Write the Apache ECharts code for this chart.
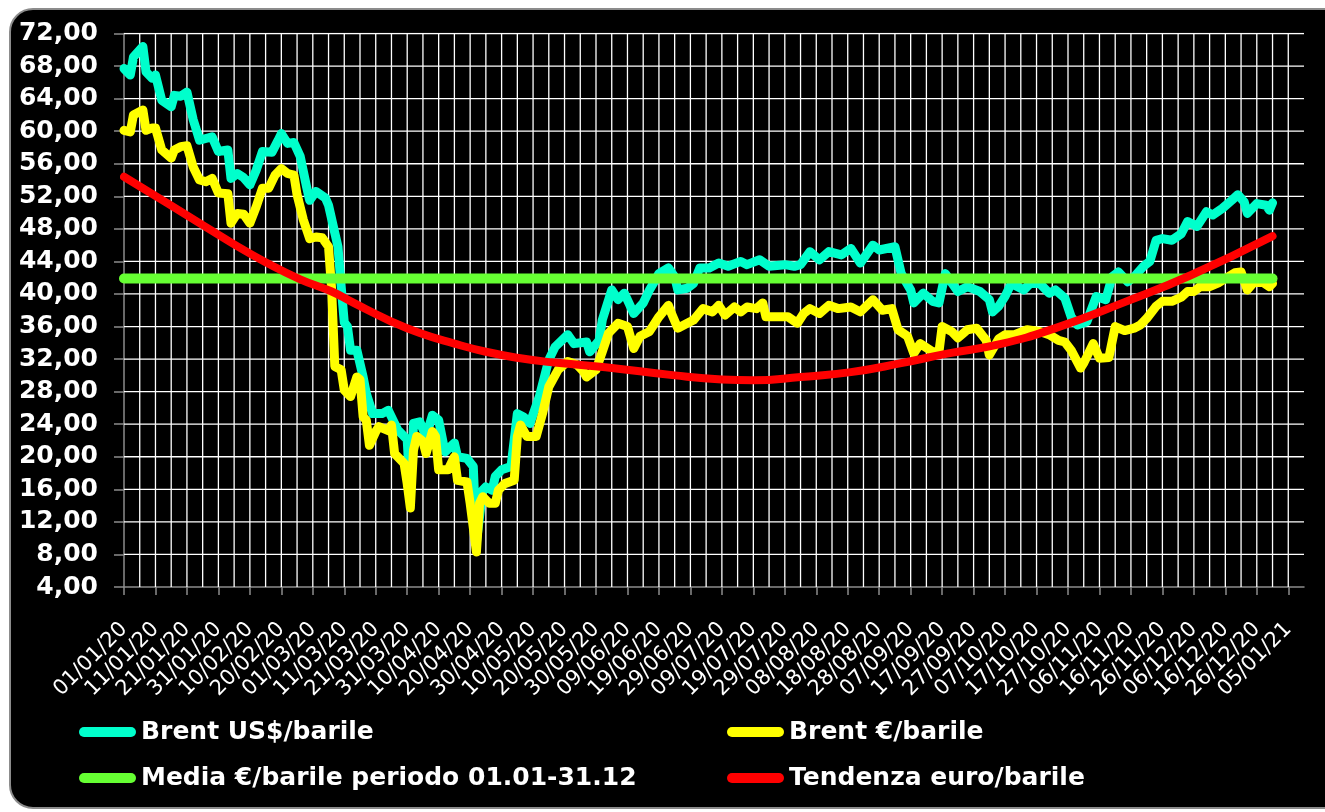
<!DOCTYPE html>
<html>
<head>
<meta charset="utf-8">
<script src="https://cdn.jsdelivr.net/npm/echarts@6/dist/echarts.min.js"></script>
<style>
  html, body { margin: 0; padding: 0; background: #fff; overflow: hidden; }
  #frame {
    position: absolute; left: 9px; top: 8px; width: 1340px; height: 797px;
    background: #000; border: 2px solid #8c8c8c; border-radius: 24px;
  }
  #chart { position: absolute; left: 0; top: 0; width: 1325px; height: 812px; }
</style>
</head>
<body>
<div id="frame"></div>
<div id="chart"></div>
<script>
// x = days since 01/01/20
const xLabels = [
  '01/01/20', '11/01/20', '21/01/20', '31/01/20', '10/02/20', '20/02/20', '01/03/20', '11/03/20',
  '21/03/20', '31/03/20', '10/04/20', '20/04/20', '30/04/20', '10/05/20', '20/05/20', '30/05/20',
  '09/06/20', '19/06/20', '29/06/20', '09/07/20', '19/07/20', '29/07/20', '08/08/20', '18/08/20',
  '28/08/20', '07/09/20', '17/09/20', '27/09/20', '07/10/20', '17/10/20', '27/10/20', '06/11/20',
  '16/11/20', '26/11/20', '06/12/20', '16/12/20', '26/12/20', '05/01/21'
]
const yTicks = [4, 8, 12, 16, 20, 24, 28, 32, 36, 40, 44, 48, 52, 56, 60, 64, 68, 72]

const usdDays = [
  0, 2, 3, 6, 7, 9, 10, 12, 15, 16, 18, 20, 22, 24, 26, 28, 30, 33, 34, 36, 38, 40, 42, 44, 47, 49,
  50, 52, 54, 56, 58, 59, 61, 64, 65, 67, 68, 69, 70, 71, 72, 74, 76, 77, 79, 82, 84, 87, 90, 91,
  92, 94, 96, 98, 100, 102, 105, 106, 109, 111, 112, 114, 115, 117, 118, 120, 123, 125, 127, 129,
  132, 135, 137, 141, 143, 147, 148, 151, 152, 155, 157, 159, 162, 165, 167, 170, 173, 175, 176,
  179, 181, 183, 186, 189, 192, 196, 198, 202, 205, 210, 213, 215, 218, 221, 224, 228, 231, 234,
  238, 240, 245, 247, 250, 251, 254, 257, 259, 261, 265, 268, 272, 275, 276, 278, 280, 282, 284,
  286, 288, 291, 294, 296, 299, 301, 303, 306, 309, 312, 314, 316, 319, 321, 324, 326, 328, 330,
  333, 336, 338, 341, 344, 346, 349, 352, 354, 356, 357, 360, 363, 364, 365
]
const brentUsd = [
  67.7, 66.9, 69.1, 70.4, 67.3, 66.5, 66.9, 63.8, 63.0, 64.4, 64.3, 64.8, 61.4, 58.9, 59.1, 59.3,
  57.5, 57.7, 54.2, 54.8, 54.3, 53.4, 55.2, 57.5, 57.4, 58.9, 59.7, 58.5, 58.6, 56.9, 53.2, 51.5,
  52.6, 51.8, 50.9, 47.5, 45.8, 41.0, 36.5, 36.0, 33.1, 33.1, 29.8, 27.8, 25.3, 25.3, 25.7, 23.3,
  22.1, 15.0, 24.1, 24.3, 22.5, 25.1, 24.5, 20.6, 21.7, 20.0, 19.8, 18.8, 9.5, 15.9, 16.3, 15.9,
  17.6, 18.4, 18.8, 25.3, 24.9, 24.1, 27.4, 31.9, 33.5, 35.0, 33.9, 34.1, 32.9, 34.3, 36.8, 40.5,
  39.3, 40.1, 37.6, 38.9, 40.5, 42.5, 43.2, 42.1, 40.5, 40.7, 41.3, 43.2, 43.2, 43.8, 43.4, 44.0,
  43.6, 44.2, 43.4, 43.6, 43.4, 43.6, 45.2, 44.2, 45.2, 44.8, 45.6, 43.8, 46.0, 45.4, 45.8, 42.5,
  40.5, 38.9, 40.1, 39.1, 38.9, 42.5, 40.3, 40.9, 40.3, 39.3, 37.8, 38.5, 39.7, 41.3, 40.9, 40.5,
  41.3, 41.3, 40.1, 40.5, 39.5, 37.2, 36.2, 36.6, 39.7, 39.3, 42.1, 42.7, 41.5, 42.1, 43.4, 44.0,
  46.6, 46.8, 46.6, 47.4, 48.9, 48.3, 50.1, 49.7, 50.5, 51.5, 52.2, 51.3, 49.9, 51.1, 50.9, 50.3,
  51.2
]

const eurDays = [
  0, 2, 3, 6, 7, 9, 10, 12, 15, 16, 18, 20, 22, 24, 26, 28, 30, 33, 34, 36, 38, 40, 42, 44, 46, 48,
  50, 52, 54, 55, 57, 59, 61, 63, 65, 66, 67, 69, 70, 72, 74, 75, 76, 77, 78, 80, 81, 84, 85, 86,
  89, 90, 91, 92, 93, 95, 96, 98, 99, 100, 103, 105, 106, 109, 110, 112, 113, 114, 116, 118, 119,
  121, 124, 125, 126, 128, 131, 133, 135, 138, 141, 144, 146, 147, 150, 152, 154, 157, 160, 162,
  164, 167, 170, 173, 174, 176, 179, 181, 184, 187, 189, 191, 194, 196, 198, 201, 203, 204, 207,
  211, 214, 216, 218, 221, 224, 227, 231, 234, 238, 241, 244, 246, 249, 251, 253, 257, 259, 260,
  263, 265, 268, 271, 274, 275, 278, 280, 283, 287, 291, 294, 297, 299, 301, 304, 305, 308, 310,
  313, 315, 318, 321, 323, 325, 328, 330, 333, 336, 338, 340, 342, 345, 348, 350, 353, 355, 357,
  359, 362, 364, 365
]
const brentEur = [
  60.1, 59.9, 62.0, 62.6, 60.1, 60.4, 60.4, 57.7, 56.7, 57.7, 58.1, 58.2, 55.6, 54.0, 53.8, 54.2,
  52.4, 52.3, 48.7, 49.9, 49.8, 48.7, 50.7, 53.0, 53.0, 54.6, 55.4, 54.8, 54.6, 52.2, 49.1, 46.8,
  47.0, 46.9, 45.8, 40.5, 31.1, 30.7, 28.2, 27.4, 29.8, 29.5, 24.9, 24.5, 21.4, 23.1, 23.7, 23.2,
  23.9, 20.4, 19.2, 16.7, 13.7, 20.8, 22.5, 21.9, 20.4, 23.1, 22.5, 18.4, 18.4, 20.0, 17.1, 16.9,
  14.3, 8.3, 14.3, 15.1, 14.3, 14.3, 15.9, 16.7, 17.1, 22.5, 23.9, 22.5, 22.5, 25.3, 28.6, 30.7,
  31.7, 31.3, 30.5, 29.8, 30.7, 32.9, 35.2, 36.4, 36.0, 33.3, 34.8, 35.4, 37.2, 38.6, 37.6, 35.8,
  36.4, 36.8, 38.2, 37.8, 38.6, 37.4, 38.4, 37.8, 38.4, 38.2, 38.9, 37.2, 37.2, 37.2, 36.4, 37.6,
  38.2, 37.6, 38.6, 38.2, 38.4, 37.8, 39.3, 38.0, 38.2, 35.6, 34.8, 32.7, 33.9, 32.9, 32.9, 36.0,
  35.4, 34.6, 35.6, 35.8, 34.3, 32.5, 34.5, 35.0, 35.0, 35.6, 35.4, 35.0, 34.3, 34.1, 33.1, 30.9,
  31.5, 33.9, 32.1, 32.2, 36.0, 35.5, 35.8, 36.2, 37.0, 38.5, 39.1, 39.1, 39.6, 40.3, 40.3, 40.9,
  40.9, 41.4, 41.9, 42.6, 42.7, 40.5, 41.4, 41.4, 40.9, 41.3
]

const meanDays = [0, 365]
const meanEur = [41.9, 41.9]

const trendDays = [0, 14, 24, 35, 45, 56, 66, 73, 84, 94, 105, 115, 126, 136, 153, 175, 190, 200,
  215, 231, 247, 262, 278, 296, 318, 339, 365]
const trendEur = [54.4, 51.1, 48.7, 46.1, 43.9, 41.8, 40.3, 38.9, 36.8, 35.2, 33.9, 32.9, 32.1,
  31.6, 31.0, 30.0, 29.5, 29.4, 29.8, 30.4, 31.5, 32.7, 33.8, 35.8, 39.0, 42.3, 47.1]

const names = ['Brent US$/barile', 'Brent €/barile', 'Media €/barile periodo 01.01-31.12', 'Tendenza euro/barile']
const colors = ['#00ffcc', '#ffff00', '#66ff33', '#ff0000']

const xMin = 0
const xMax = 375
const gridStepDays = 5

const pairs = (xs, ys) => xs.map((d, i) => [d, ys[i]])
const labelTicks = xLabels.map((l, i) => i * 10)
const grey = '#8c8c8c'
const capsule = 'path://M5,0L52,0A5,5,0,0,1,52,10L5,10A5,5,0,0,1,5,0Z'

// grid lines as broken polylines on the chart's own scales ('-' = gap)
const hGrid = []
yTicks.slice(1).forEach(v => {
  hGrid.push([xMin, v], [xMax, v], [xMax, '-'])
})
const vGrid = []
for (let d = gridStepDays; d <= labelTicks[labelTicks.length - 1]; d += gridStepDays) {
  vGrid.push([d, yTicks[0]], [d, yTicks[yTicks.length - 1]], [d, '-'])
}

const gridSeries = data => ({
  type: 'line', data: data, silent: true, showSymbol: false, connectNulls: false,
  lineStyle: { color: '#ffffff', width: 1.3 },
  emphasis: { disabled: true }, tooltip: { show: false }
})

const legendText = {
  color: '#fff',
  fontFamily: 'DejaVu Sans',
  fontWeight: 'bold',
  fontSize: 25,
  lineHeight: 26
}

const chart = echarts.init(document.getElementById('chart'))

chart.setOption({
  animation: false,
  grid: { left: 124, right: 21, top: 33.5, bottom: 225 },
  legend: [
    {
      orient: 'vertical', left: 79, top: 719, padding: 0, itemWidth: 57, itemHeight: 10, itemGap: 20,
      icon: capsule, textStyle: legendText, data: [names[0], names[2]]
    },
    {
      orient: 'vertical', left: 727, top: 719, padding: 0, itemWidth: 57, itemHeight: 10, itemGap: 20,
      icon: capsule, textStyle: legendText, data: [names[1], names[3]]
    }
  ],
  xAxis: {
    type: 'value', min: xMin, max: xMax, interval: 10,
    axisLine: { show: true, onZero: false, lineStyle: { color: grey, width: 1.5 } },
    axisTick: { show: true, length: 8, customValues: labelTicks, lineStyle: { color: grey, width: 1.5 } },
    axisLabel: {
      customValues: labelTicks,
      showMinLabel: true,
      showMaxLabel: true,
      hideOverlap: false,
      rotate: 45,
      margin: 39,
      color: '#fff',
      fontFamily: 'DejaVu Sans',
      fontSize: 21,
      formatter: v => xLabels[Math.round(v / 10)] || ''
    },
    splitLine: { show: false }
  },
  yAxis: {
    type: 'value', min: yTicks[0], max: yTicks[yTicks.length - 1], interval: 4,
    axisLine: { show: true, lineStyle: { color: grey, width: 1.5 } },
    axisTick: { show: true, length: 10, lineStyle: { color: grey, width: 1.5 } },
    axisLabel: {
      margin: 26,
      color: '#fff',
      fontFamily: 'DejaVu Sans',
      fontWeight: 'bold',
      fontSize: 25,
      formatter: v => v.toFixed(2).replace('.', ',')
    },
    splitLine: { show: false }
  },
  series: [
    gridSeries(hGrid),
    gridSeries(vGrid),
    {
      name: names[0], type: 'line', data: pairs(usdDays, brentUsd),
      showSymbol: false, color: colors[0],
      lineStyle: { color: colors[0], width: 9, cap: 'round', join: 'round' }
    },
    {
      name: names[1], type: 'line', data: pairs(eurDays, brentEur),
      showSymbol: false, color: colors[1],
      lineStyle: { color: colors[1], width: 9, cap: 'round', join: 'round' }
    },
    {
      name: names[2], type: 'line', data: pairs(meanDays, meanEur),
      showSymbol: false, color: colors[2],
      lineStyle: { color: colors[2], width: 10, cap: 'round' }
    },
    {
      name: names[3], type: 'line', data: pairs(trendDays, trendEur),
      showSymbol: false, smooth: true, color: colors[3],
      lineStyle: { color: colors[3], width: 8, cap: 'round' }
    }
  ]
})
</script>
</body>
</html>
